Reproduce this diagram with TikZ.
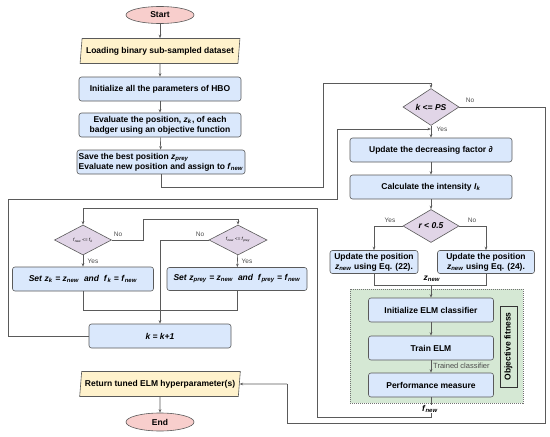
\documentclass[tikz,border=0pt]{standalone}
\usepackage{fontspec}
\setmainfont{Liberation Sans}
\usetikzlibrary{shapes.geometric,arrows.meta}
\definecolor{bluef}{HTML}{DAE8FC}
\definecolor{yellowf}{HTML}{FFF2CC}
\definecolor{redf}{HTML}{F8CECC}
\definecolor{purplef}{HTML}{E1D5E7}
\definecolor{greenf}{HTML}{D5E8D4}
\definecolor{edgec}{HTML}{5A5A5A}
\newcommand{\vs}[2]{\textit{#1}\textsubscript{\textit{#2}}}
\begin{document}
\begin{tikzpicture}[x=1pt,y=-1pt,
  bfont/.style={font=\bfseries\fontsize{8.5}{10}\selectfont},
  box/.style={draw=edgec, fill=bluef, rounded corners=2.5pt, line width=0.6pt, bfont, align=center, inner sep=1pt},
  term/.style={ellipse, draw=edgec, fill=redf, line width=0.6pt, bfont, inner sep=0pt, minimum width=68pt, minimum height=17pt},
  iobox/.style={trapezium, trapezium left angle=79, trapezium right angle=101, trapezium stretches=true, draw=edgec, fill=yellowf, line width=0.6pt, bfont, inner sep=1pt, minimum width=160pt, minimum height=25pt},
  dia/.style={diamond, draw=edgec, fill=purplef, line width=0.6pt, inner sep=0pt},
  conn/.style={draw=edgec, line width=0.6pt},
  arr/.style={conn, -{Stealth[length=3.5pt,width=2.6pt]}},
  lab/.style={font=\fontsize{6.5}{7.5}\selectfont, text=black!70, inner sep=1pt},
  tiny/.style={font=\fontsize{4.5}{5}\selectfont}
]
\useasboundingbox (0,0) rectangle (550,437);
\fill[white] (0,0) rectangle (550,437);

% left column
\node[term] (start) at (160,15) {Start};
\node[iobox] (load) at (160,51) {Loading binary sub-sampled dataset};
\node[box, minimum width=162pt, minimum height=24pt] (init) at (160,89) {Initialize all the parameters of HBO};
\node[box, minimum width=162pt, minimum height=24pt] (eval) at (160,125) {Evaluate the position, \vs{z}{k}, of each\\badger using an objective function};
\node[box, minimum width=168pt, minimum height=24pt, align=left, inner sep=0.5pt] (save) at (161,162) {Save the best position \vs{z}{prey}\\Evaluate new position and assign to \vs{f}{new}};

% right column
\node[dia, minimum width=56pt, minimum height=30pt, bfont] (kps) at (431,107) {\textit{k <= PS}};
\node[box, minimum width=162pt, minimum height=24pt] (dec) at (431,150) {Update the decreasing factor ∂};
\node[box, minimum width=162pt, minimum height=24pt] (int) at (431,187) {Calculate the intensity \vs{I}{k}};
\node[dia, minimum width=56pt, minimum height=33pt, bfont] (r) at (431,226) {\textit{r < 0.5}};
\node[box, minimum width=88pt, minimum height=23pt] (up1) at (374,262) {Update the position\\\vs{z}{new} using Eq. (22).};
\node[box, minimum width=97pt, minimum height=23pt] (up2) at (486,262) {Update the position\\\vs{z}{new} using Eq. (24).};

\fill[greenf] (350,289) rectangle (523,403);
\draw[draw=black!55, line width=0.6pt, dash pattern=on 1pt off 1pt] (350,289) rectangle (523,403);
\node[box, minimum width=125pt, minimum height=24pt] (elm) at (431,310) {Initialize ELM classifier};
\node[box, minimum width=125pt, minimum height=24pt] (train) at (431,348) {Train ELM};
\node[box, minimum width=125pt, minimum height=24pt] (perf) at (431,385) {Performance measure};
\node[draw=black!80, fill=greenf, line width=0.6pt, rotate=90, minimum width=81pt, minimum height=17pt, inner sep=0pt, bfont] (obj) at (508.5,346.5) {Objective fitness};

% inner loop
\node[dia, minimum width=57pt, minimum height=30pt, tiny] (d1) at (83,240) {\vs{f}{new} <= \vs{f}{k}};
\node[dia, minimum width=58pt, minimum height=30pt, tiny] (d2) at (238,240) {\vs{f}{new} <= \vs{f}{prey}};
\node[box, minimum width=141pt, minimum height=24pt] (set1) at (83,279) {\textit{Set} \vs{z}{k} \textit{=} \vs{z}{new} \ \textit{and} \ \vs{f}{k} \textit{=} \vs{f}{new}};
\node[box, minimum width=140pt, minimum height=23pt] (set2) at (237,279) {\textit{Set} \vs{z}{prey} \textit{=} \vs{z}{new} \ \textit{and} \ \vs{f}{prey} \textit{=} \vs{f}{new}};
\node[box, minimum width=142pt, minimum height=24pt] (kk) at (160,336) {\textit{k = k+1}};

\node[iobox, minimum width=161pt] (ret) at (160,384) {Return tuned ELM hyperparameter(s)};
\node[term, minimum height=18pt] (end) at (160,422) {End};

% connectors
\draw[arr] (start) -- (load);
\draw[arr] (load) -- (init);
\draw[arr] (init) -- (eval);
\draw[arr] (eval) -- (save);
\draw[arr] (save.south) |- (323,187) -- (323,83) -| (kps.north);
\draw[conn] (kps.east) -- (545,107) -- (545,423) -- (287,423) -- (287,384);
\draw[arr] (287,384) -- (ret.east);
\node[lab] at (470,100) {No};
\draw[arr] (kps) -- (dec);
\node[lab] at (442,129) {Yes};
\draw[arr] (kk.west) -- (8,336) -- (8,199) -- (337,199) -- (337,129) -- (431,129);
\draw[arr] (dec) -- (int);
\draw[arr] (int) -- (r);
\draw[arr] (r.west) -| (up1.north);
\draw[arr] (r.east) -| (up2.north);
\node[lab] at (390,220) {Yes};
\node[lab] at (472,220) {No};
\draw[conn] (up1.south) -- (374,285) -| (up2.south);
\draw[arr] (431,285) -- (elm.north);
\node[bfont] at (432,279) {\vs{z}{new}};
\draw[arr] (elm) -- (train);
\draw[arr] (train) -- (perf);
\node[lab, anchor=west, font=\fontsize{7.5}{8}\selectfont] at (432,366) {Trained classifier};
\draw[arr] (perf.south) -- (431,417) -- (317,417) -- (317,208) -| (d1.north);
\node[bfont, fill=white, inner sep=0.5pt] at (430,409) {\vs{f}{new}};
\draw[arr] (d1.east) -- (143,240) -- (143,219) -| (d2.north);
\node[lab] at (118,234) {No};
\draw[arr] (d1) -- (set1);
\node[lab] at (93,261) {Yes};
\draw[arr] (d2) -- (set2);
\node[lab] at (247,261) {Yes};
\draw[arr] (d2.west) -| (kk.north);
\node[lab] at (200,234) {No};
\draw[conn] (set1.south) -- (83,310) -| (set2.south);
\draw[arr] (ret) -- (end);
\end{tikzpicture}
\end{document}
